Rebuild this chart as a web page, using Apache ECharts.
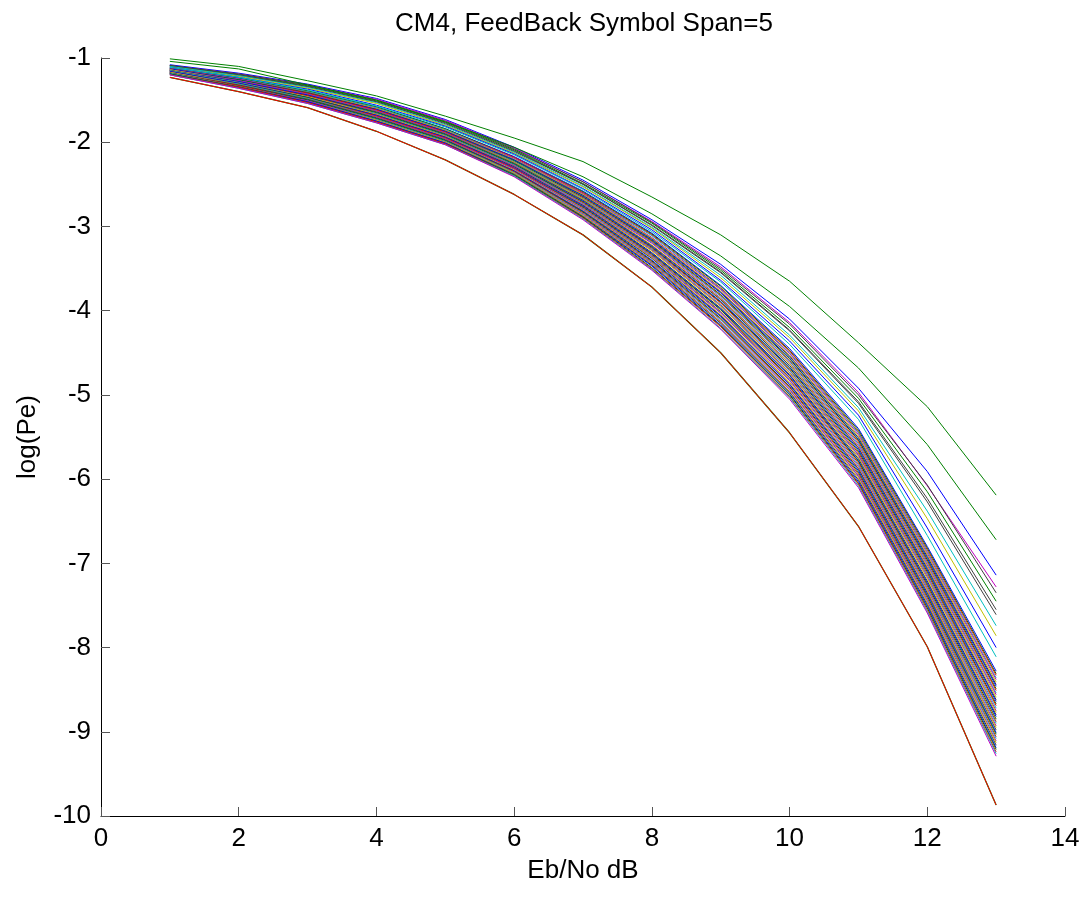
<!DOCTYPE html>
<html lang="en">
	<head>
		<meta charset="UTF-8" />
		<title>CM4 FeedBack</title>
		<script src="https://cdn.jsdelivr.net/npm/echarts@6.0.0/dist/echarts.min.js"></script>
		<style>
			body { margin: 0; background: #fff; }
		</style>
	</head>
	<body>
		<div id="main" style="width: 1087px; height: 899px"></div>
		<script type="text/javascript">
			// Eb/No values (dB)
			const ebNo = [1, 2, 3, 4, 5, 6, 7, 8, 9, 10, 11, 12, 13];
			const xTicks = [0, 2, 4, 6, 8, 10, 12, 14];
			const yTicks = [-10, -9, -8, -7, -6, -5, -4, -3, -2, -1];

			// the two curves sitting above the bundle
			const topGreen = [-1.01, -1.1, -1.27, -1.45, -1.69, -1.95, -2.23, -2.65, -3.1, -3.65, -4.38, -5.14, -6.19];
			const secondGreen = [-1.04, -1.13, -1.32, -1.5, -1.76, -2.06, -2.41, -2.85, -3.35, -3.95, -4.68, -5.59, -6.72];
			// lowest curve (red and green drawn on top of each other)
			const floorCurve = [-1.23, -1.4, -1.59, -1.87, -2.21, -2.62, -3.1, -3.72, -4.5, -5.45, -6.56, -7.99, -9.87];

			// loose lines at the top of the bundle
			const upperLines = [
				[-1.08, -1.18, -1.31, -1.48, -1.73, -2.06, -2.45, -2.92, -3.45, -4.1, -4.92, -5.91, -7.14],
				[-1.09, -1.19, -1.32, -1.49, -1.74, -2.07, -2.47, -2.94, -3.48, -4.14, -4.97, -6.08, -7.28],
				[-1.09, -1.19, -1.32, -1.5, -1.75, -2.08, -2.47, -2.95, -3.5, -4.16, -5.0, -6.07, -7.35],
				[-1.09, -1.2, -1.33, -1.51, -1.76, -2.09, -2.49, -2.96, -3.52, -4.2, -5.04, -6.15, -7.45],
				[-1.09, -1.2, -1.34, -1.52, -1.77, -2.1, -2.5, -2.98, -3.54, -4.23, -5.08, -6.23, -7.55],
				[-1.1, -1.21, -1.34, -1.52, -1.78, -2.11, -2.5, -2.99, -3.55, -4.24, -5.1, -6.27, -7.61],
				[-1.1, -1.21, -1.35, -1.53, -1.79, -2.12, -2.52, -3.01, -3.58, -4.29, -5.15, -6.38, -7.74],
				[-1.11, -1.22, -1.36, -1.54, -1.8, -2.13, -2.53, -3.02, -3.61, -4.32, -5.19, -6.47, -7.86],
				[-1.11, -1.23, -1.37, -1.56, -1.81, -2.14, -2.55, -3.04, -3.64, -4.36, -5.24, -6.58, -8.0],
				[-1.11, -1.23, -1.38, -1.57, -1.82, -2.15, -2.56, -3.06, -3.66, -4.4, -5.29, -6.67, -8.11],
			];
			const upperColors = ["#0000ff", "#bf00bf", "#404040", "#008000", "#404040", "#404040", "#00bfbf", "#bfbf00", "#0000ff", "#00bfbf"];

			// the dense bundle
			const bundleLines = [
				[-1.12, -1.24, -1.39, -1.58, -1.84, -2.17, -2.58, -3.08, -3.7, -4.45, -5.4, -6.8, -8.28],
				[-1.12, -1.24, -1.39, -1.58, -1.84, -2.18, -2.59, -3.09, -3.71, -4.47, -5.42, -6.82, -8.31],
				[-1.12, -1.25, -1.4, -1.59, -1.85, -2.18, -2.6, -3.1, -3.73, -4.48, -5.44, -6.84, -8.33],
				[-1.13, -1.25, -1.4, -1.59, -1.85, -2.19, -2.61, -3.11, -3.74, -4.5, -5.45, -6.86, -8.36],
				[-1.13, -1.25, -1.41, -1.6, -1.86, -2.19, -2.61, -3.13, -3.75, -4.51, -5.47, -6.88, -8.38],
				[-1.13, -1.26, -1.41, -1.6, -1.86, -2.2, -2.62, -3.14, -3.77, -4.53, -5.49, -6.9, -8.41],
				[-1.13, -1.26, -1.41, -1.61, -1.87, -2.21, -2.63, -3.15, -3.78, -4.54, -5.51, -6.92, -8.44],
				[-1.13, -1.26, -1.42, -1.61, -1.87, -2.21, -2.64, -3.16, -3.79, -4.56, -5.53, -6.94, -8.46],
				[-1.14, -1.26, -1.42, -1.62, -1.88, -2.22, -2.65, -3.17, -3.81, -4.57, -5.54, -6.96, -8.49],
				[-1.14, -1.27, -1.42, -1.62, -1.88, -2.23, -2.66, -3.18, -3.82, -4.59, -5.56, -6.98, -8.51],
				[-1.14, -1.27, -1.43, -1.63, -1.89, -2.23, -2.67, -3.19, -3.83, -4.6, -5.58, -7.0, -8.54],
				[-1.14, -1.27, -1.43, -1.63, -1.89, -2.24, -2.68, -3.2, -3.85, -4.62, -5.6, -7.02, -8.56],
				[-1.14, -1.28, -1.44, -1.64, -1.9, -2.24, -2.68, -3.22, -3.86, -4.63, -5.62, -7.04, -8.59],
				[-1.15, -1.28, -1.44, -1.64, -1.9, -2.25, -2.69, -3.23, -3.87, -4.65, -5.63, -7.06, -8.62],
				[-1.15, -1.28, -1.44, -1.65, -1.91, -2.26, -2.7, -3.24, -3.89, -4.67, -5.65, -7.08, -8.64],
				[-1.15, -1.29, -1.45, -1.65, -1.91, -2.26, -2.71, -3.25, -3.9, -4.68, -5.67, -7.1, -8.67],
				[-1.15, -1.29, -1.45, -1.66, -1.92, -2.27, -2.72, -3.26, -3.91, -4.7, -5.69, -7.12, -8.69],
				[-1.15, -1.29, -1.46, -1.66, -1.92, -2.27, -2.73, -3.27, -3.93, -4.71, -5.71, -7.14, -8.72],
				[-1.16, -1.3, -1.46, -1.67, -1.93, -2.28, -2.74, -3.28, -3.94, -4.73, -5.72, -7.16, -8.75],
				[-1.16, -1.3, -1.46, -1.67, -1.93, -2.29, -2.75, -3.29, -3.95, -4.74, -5.74, -7.18, -8.77],
				[-1.16, -1.3, -1.47, -1.68, -1.94, -2.29, -2.75, -3.31, -3.97, -4.76, -5.76, -7.21, -8.8],
				[-1.16, -1.3, -1.47, -1.68, -1.94, -2.3, -2.76, -3.32, -3.98, -4.77, -5.78, -7.23, -8.82],
				[-1.17, -1.31, -1.47, -1.69, -1.95, -2.31, -2.77, -3.33, -3.99, -4.79, -5.79, -7.25, -8.85],
				[-1.17, -1.31, -1.48, -1.69, -1.95, -2.31, -2.78, -3.34, -4.01, -4.8, -5.81, -7.27, -8.88],
				[-1.17, -1.31, -1.48, -1.7, -1.96, -2.32, -2.79, -3.35, -4.02, -4.82, -5.83, -7.29, -8.9],
				[-1.17, -1.32, -1.49, -1.7, -1.96, -2.32, -2.8, -3.36, -4.03, -4.83, -5.85, -7.31, -8.93],
				[-1.17, -1.32, -1.49, -1.71, -1.97, -2.33, -2.81, -3.37, -4.05, -4.85, -5.87, -7.33, -8.95],
				[-1.18, -1.32, -1.49, -1.71, -1.97, -2.34, -2.82, -3.38, -4.06, -4.87, -5.88, -7.35, -8.98],
				[-1.18, -1.33, -1.5, -1.72, -1.98, -2.34, -2.82, -3.4, -4.07, -4.88, -5.9, -7.37, -9.01],
				[-1.18, -1.33, -1.5, -1.72, -1.98, -2.35, -2.83, -3.41, -4.09, -4.9, -5.92, -7.39, -9.03],
				[-1.18, -1.33, -1.51, -1.73, -1.99, -2.35, -2.84, -3.42, -4.1, -4.91, -5.94, -7.41, -9.06],
				[-1.18, -1.34, -1.51, -1.73, -1.99, -2.36, -2.85, -3.43, -4.11, -4.93, -5.96, -7.43, -9.08],
				[-1.19, -1.34, -1.51, -1.74, -2.0, -2.37, -2.86, -3.44, -4.13, -4.94, -5.97, -7.45, -9.11],
				[-1.19, -1.34, -1.52, -1.74, -2.0, -2.37, -2.87, -3.45, -4.14, -4.96, -5.99, -7.47, -9.13],
				[-1.19, -1.34, -1.52, -1.75, -2.01, -2.38, -2.88, -3.46, -4.15, -4.97, -6.01, -7.49, -9.16],
				[-1.19, -1.35, -1.52, -1.75, -2.01, -2.39, -2.89, -3.47, -4.17, -4.99, -6.03, -7.51, -9.19],
				[-1.19, -1.35, -1.53, -1.76, -2.02, -2.39, -2.89, -3.49, -4.18, -5.0, -6.05, -7.53, -9.21],
				[-1.2, -1.35, -1.53, -1.76, -2.02, -2.4, -2.9, -3.5, -4.19, -5.02, -6.06, -7.55, -9.24],
				[-1.2, -1.36, -1.54, -1.77, -2.03, -2.4, -2.91, -3.51, -4.21, -5.03, -6.08, -7.57, -9.26],
				[-1.2, -1.36, -1.54, -1.77, -2.03, -2.41, -2.92, -3.52, -4.22, -5.05, -6.1, -7.59, -9.29],
			];
			// matlab-like colour cycle
			const cycle = ["#0000ff", "#008000", "#ff0000", "#00bfbf", "#bf00bf", "#bfbf00", "#404040"];

			const font = "'Liberation Sans', Arial, sans-serif";

			function lineSeries(values, color, width) {
				return {
					type: "line",
					data: values.map((v, i) => [ebNo[i], v]),
					showSymbol: false,
					silent: true,
					lineStyle: { color: color, width: width || 1 },
				};
			}

			const series = [];
			bundleLines.forEach((vals, i) => series.push(lineSeries(vals, cycle[i % cycle.length], 1)));
			upperLines.forEach((vals, i) => series.push(lineSeries(vals, upperColors[i])));
			series.push(lineSeries(secondGreen, "#008000"));
			series.push(lineSeries(topGreen, "#008000"));
			series.push(lineSeries(floorCurve, "#008000", 1.3));
			series.push(lineSeries(floorCurve, "#ff0000", 1));

			let chart = echarts.init(document.getElementById("main"));
			chart.setOption({
				animation: false,
				backgroundColor: "#ffffff",
				textStyle: { fontFamily: font },
				title: {
					text: "CM4, FeedBack Symbol Span=5",
					left: 579,
					textAlign: "center",
					top: 6,
					textStyle: { fontFamily: font, fontSize: 26, fontWeight: "normal", color: "#000" },
				},
				grid: { left: 101, right: 22, top: 58, bottom: 83 },
				xAxis: {
					type: "value",
					min: xTicks[0],
					max: xTicks[xTicks.length - 1],
					interval: 2,
					name: "Eb/No dB",
					nameLocation: "middle",
					nameGap: 42,
					nameTextStyle: { fontFamily: font, fontSize: 26, color: "#000" },
					axisLine: { lineStyle: { color: "#000", width: 1 } },
					axisTick: { inside: true, length: 9, lineStyle: { color: "#555" } },
					axisLabel: { fontFamily: font, fontSize: 26, color: "#000", margin: 10 },
					splitLine: { show: false },
				},
				yAxis: {
					type: "value",
					min: yTicks[0],
					max: yTicks[yTicks.length - 1],
					interval: 1,
					name: "log(Pe)",
					nameLocation: "middle",
					nameGap: 60,
					nameTextStyle: { fontFamily: font, fontSize: 26, color: "#000" },
					axisLine: { show: true, lineStyle: { color: "#000", width: 1 } },
					axisTick: { show: true, inside: true, length: 9, lineStyle: { color: "#555" } },
					axisLabel: { fontFamily: font, fontSize: 26, color: "#000", margin: 10 },
					splitLine: { show: false },
				},
				series: series,
			});
		</script>
	</body>
</html>
